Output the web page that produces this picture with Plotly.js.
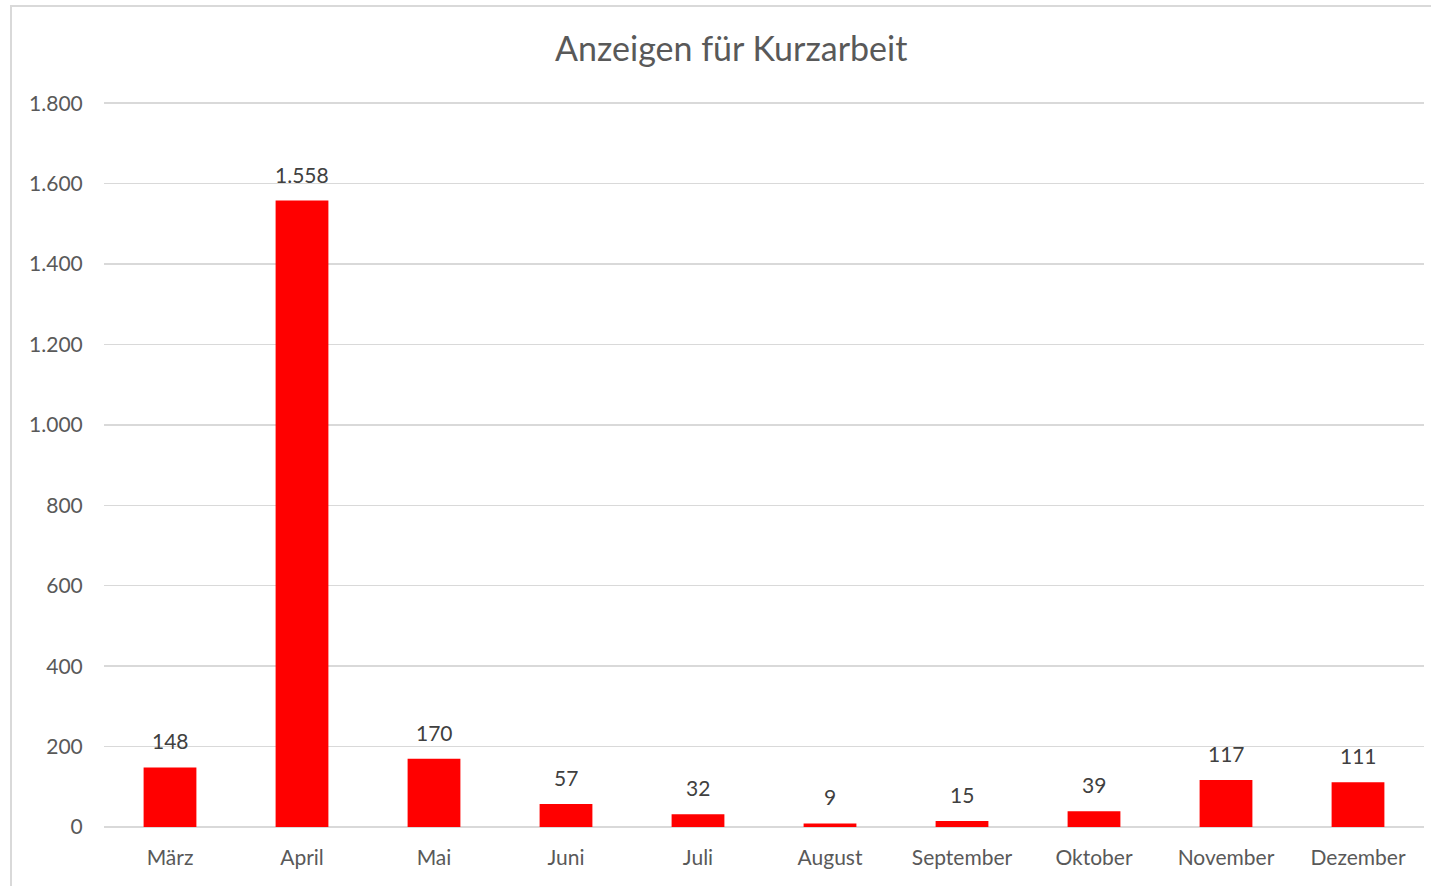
<!DOCTYPE html>
<html>
<head>
<meta charset="utf-8">
<script src="https://cdn.plot.ly/plotly-3.0.1.min.js"></script>
<style>
  html, body { margin: 0; padding: 0; background: #fff; overflow: hidden; }
  #frame {
    position: absolute; left: 10px; top: 5px;
    width: 1440px; height: 900px;
    border: 2px solid #d9d9d9; box-sizing: border-box;
  }
  #chart { position: absolute; left: 0; top: 0; width: 1431px; height: 886px; }
</style>
</head>
<body>
<div id="frame"></div>
<div id="chart"></div>
<script>
// Anzeigen für Kurzarbeit, per month
const months = ["März", "April", "Mai", "Juni", "Juli", "August", "September", "Oktober", "November", "Dezember"];
const anzeigen = [148, 1558, 170, 57, 32, 9, 15, 39, 117, 111];
const yTicks = [0, 200, 400, 600, 800, 1000, 1200, 1400, 1600, 1800];

const fontFamily = "Lato, 'Open Sans', sans-serif";

function formatDe(n) {
  return Number(n).toLocaleString("de-DE");
}

const trace = {
  type: "bar",
  x: months,
  y: anzeigen,
  marker: { color: "#ff0000" },
  hoverinfo: "x+y",
};

// value labels sit a bit higher above the bars than plotly's outside text
const labels = months.map((m, i) => ({
  x: m,
  y: anzeigen[i],
  text: formatDe(anzeigen[i]),
  showarrow: false,
  xanchor: "center",
  yanchor: "bottom",
  yshift: 12,
  font: { family: fontFamily, size: 21, color: "#404040" },
}));

const layout = {
  width: 1431,
  height: 886,
  separators: ",.",
  paper_bgcolor: "rgba(0,0,0,0)",
  plot_bgcolor: "rgba(0,0,0,0)",
  margin: { l: 104, r: 7, t: 102, b: 59 },
  bargap: 0.6,
  showlegend: false,
  font: { family: fontFamily, color: "#595959" },
  title: {
    text: "Anzeigen für Kurzarbeit",
    font: { family: fontFamily, size: 34, color: "#595959" },
    x: 0.511,
    xanchor: "center",
    y: 0.945,
    yanchor: "middle",
    yref: "container",
  },
  xaxis: {
    tickfont: { family: fontFamily, size: 21, color: "#595959" },
    ticks: "outside",
    ticklen: 12,
    tickcolor: "rgba(0,0,0,0)",
    showline: false,
    showgrid: false,
  },
  yaxis: {
    range: [0, 1803],
    tickvals: yTicks,
    tickformat: ",d",
    tickfont: { family: fontFamily, size: 21, color: "#595959" },
    ticks: "outside",
    ticklen: 16,
    tickcolor: "rgba(0,0,0,0)",
    gridcolor: "#d9d9d9",
    gridwidth: 1.5,
    zeroline: true,
    zerolinecolor: "#d9d9d9",
    zerolinewidth: 2,
    showline: false,
  },
  annotations: labels,
};

Plotly.newPlot("chart", [trace], layout, { displayModeBar: false, staticPlot: true });
</script>
</body>
</html>
